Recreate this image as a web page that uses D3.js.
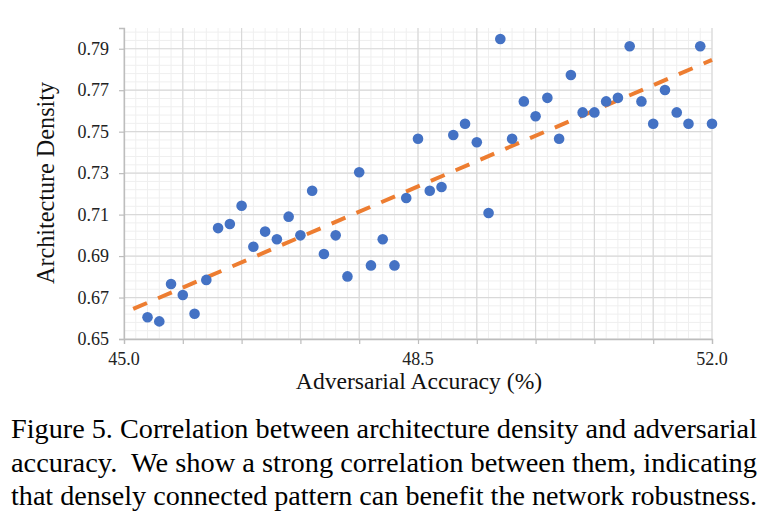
<!DOCTYPE html>
<html><head><meta charset="utf-8">
<script src="https://cdn.jsdelivr.net/npm/d3@7"></script>
<style>body{margin:0;background:#fff}svg{display:block}</style>
</head><body>
<svg id="c" width="774" height="522"></svg>
<script>
const accuracy = [45.28,45.42,45.56,45.70,45.84,45.98,46.12,46.26,46.40,46.54,46.68,46.82,46.96,47.10,47.24,47.38,47.52,47.66,47.80,47.94,48.08,48.22,48.36,48.50,48.64,48.78,48.92,49.06,49.20,49.34,49.48,49.62,49.76,49.90,50.04,50.18,50.32,50.46,50.60,50.74,50.88,51.02,51.16,51.30,51.44,51.58,51.72,51.86,52.00];
const density = [0.6605,0.6585,0.6765,0.6712,0.6622,0.6785,0.7035,0.7055,0.7143,0.6945,0.7018,0.6981,0.7090,0.7000,0.7215,0.6910,0.7000,0.6802,0.7304,0.6855,0.6981,0.6855,0.7180,0.7466,0.7215,0.7233,0.7484,0.7538,0.7449,0.7108,0.7947,0.7466,0.7646,0.7574,0.7663,0.7466,0.7773,0.7593,0.7593,0.7646,0.7663,0.7912,0.7646,0.7538,0.7701,0.7593,0.7538,0.7912,0.7538];
// trendline end points
const trendX = [45.0, 52.0];
const trendY = [0.6626, 0.7846];
const xTickValues = [45.0, 48.5, 52.0];
const xTickLabels = ["45.0", "48.5", "52.0"];
const yTickValues = [0.65, 0.67, 0.69, 0.71, 0.73, 0.75, 0.77, 0.79];
const yTickLabels = ["0.65", "0.67", "0.69", "0.71", "0.73", "0.75", "0.77", "0.79"];
const xTitle = "Adversarial Accuracy (%)";
const yTitle = "Architecture Density";
const captionLines = [
  "Figure 5. Correlation between architecture density and adversarial",
  "accuracy.  We show a strong correlation between them, indicating",
  "that densely connected pattern can benefit the network robustness."
];

const L = 124, R = 712, T = 28, B = 339;
const svg = d3.select("#c");
const x = d3.scaleLinear().domain([45, 52]).range([L, R]);
const y = d3.scaleLinear().domain([0.65, 0.80]).range([B, T]);
const font = "'Liberation Serif','Times New Roman',serif";

// grid
const xMinor = d3.range(0, 51).map(i => 45 + i * 0.14);
const yMinor = d3.range(0, 38).map(i => 0.65 + i * 0.004);
const xMajor = d3.range(0, 11).map(i => 45 + i * 0.7);
const yMajor = d3.range(0, 8).map(i => 0.65 + i * 0.02);
const g = svg.append("g");
g.selectAll(".xm").data(xMinor).join("line")
  .attr("x1", d => x(d)).attr("x2", d => x(d)).attr("y1", T).attr("y2", B)
  .attr("stroke", "#efefef").attr("stroke-width", 1);
g.selectAll(".ym").data(yMinor).join("line")
  .attr("x1", L).attr("x2", R).attr("y1", d => y(d)).attr("y2", d => y(d))
  .attr("stroke", "#efefef").attr("stroke-width", 1);
g.selectAll(".xM").data(xMajor).join("line")
  .attr("x1", d => x(d)).attr("x2", d => x(d)).attr("y1", T).attr("y2", B)
  .attr("stroke", "#d9d9d9").attr("stroke-width", 1.2);
g.selectAll(".yM").data(yMajor).join("line")
  .attr("x1", L).attr("x2", R).attr("y1", d => y(d)).attr("y2", d => y(d))
  .attr("stroke", "#d9d9d9").attr("stroke-width", 1.2);

// axes
const xAxis = d3.axisBottom(x).tickValues(xMajor).tickSize(5).tickFormat("");
const yAxis = d3.axisLeft(y).tickValues(yMajor).tickSize(5).tickFormat("");
const gx = svg.append("g").attr("transform", `translate(0,${B})`).call(xAxis);
const gy = svg.append("g").attr("transform", `translate(${L},0)`).call(yAxis);
[gx, gy].forEach(a => {
  a.select(".domain").attr("stroke", "#bdbdbd").attr("stroke-width", 1.3);
  a.selectAll(".tick line").attr("stroke", "#bdbdbd").attr("stroke-width", 1.2);
});

// tick labels
svg.selectAll(".xl").data(xTickValues).join("text")
  .attr("x", d => x(d)).attr("y", 365).attr("text-anchor", "middle")
  .attr("font-family", font).attr("font-size", 18).attr("fill", "#222")
  .text((d, i) => xTickLabels[i]);
svg.selectAll(".yl").data(yTickValues).join("text")
  .attr("x", 109).attr("y", d => y(d) + 6).attr("text-anchor", "end")
  .attr("font-family", font).attr("font-size", 18).attr("fill", "#222")
  .text((d, i) => yTickLabels[i]);

// titles
svg.append("text").attr("x", 419).attr("y", 389).attr("text-anchor", "middle")
  .attr("font-family", font).attr("font-size", 23.6).attr("fill", "#111").text(xTitle);
svg.append("text").attr("transform", "translate(54,183) rotate(-90)").attr("text-anchor", "middle")
  .attr("font-family", font).attr("font-size", 24.2).attr("fill", "#111").text(yTitle);

// trendline
svg.append("line")
  .attr("x1", x(trendX[0])).attr("y1", y(trendY[0]))
  .attr("x2", x(trendX[1])).attr("y2", y(trendY[1]))
  .attr("stroke", "#ED7D31").attr("stroke-width", 4)
  .attr("stroke-dasharray", "15,12").attr("stroke-dashoffset", 17);

// points
svg.selectAll(".pt").data(accuracy).join("circle")
  .attr("cx", d => x(d)).attr("cy", (d, i) => y(density[i])).attr("r", 5.3)
  .attr("fill", "#4472C4");

// caption
svg.selectAll(".cap").data(captionLines).join("text")
  .attr("x", 11).attr("y", (d, i) => 438 + i * 33.5)
  .attr("font-family", font).attr("font-size", 27).attr("fill", "#000")
  .attr("textLength", 746).attr("lengthAdjust", "spacingAndGlyphs")
  .attr("xml:space", "preserve")
  .text(d => d);
</script>
</body></html>
